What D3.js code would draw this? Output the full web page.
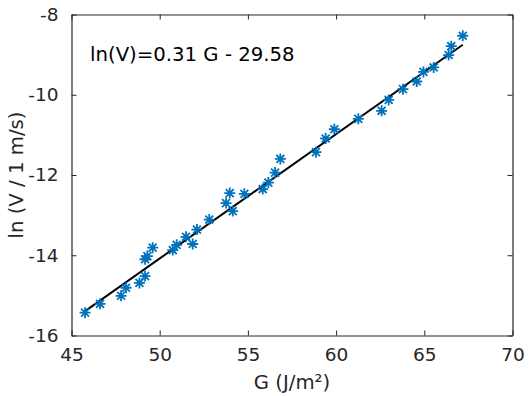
<!DOCTYPE html>
<html><head><meta charset="utf-8">
<script src="https://cdn.jsdelivr.net/npm/d3@7"></script>
<style>body{margin:0;background:#fff}svg{display:block}</style>
</head><body><svg id="c" width="530" height="396"></svg>
<script>
const gValues = [45.77,46.62,47.81,48.09,48.85,49.17,49.17,49.30,49.60,50.74,50.96,51.49,51.87,52.11,52.81,53.76,53.97,54.14,54.80,55.84,56.16,56.54,56.84,58.86,59.41,59.90,61.26,62.58,62.98,63.79,64.57,64.95,65.53,66.38,66.53,67.18];
const lnV = [-15.43,-15.21,-15.01,-14.81,-14.69,-14.52,-14.10,-14.02,-13.81,-13.87,-13.74,-13.54,-13.72,-13.36,-13.11,-12.70,-12.45,-12.90,-12.47,-12.35,-12.19,-11.94,-11.60,-11.43,-11.09,-10.86,-10.60,-10.40,-10.13,-9.86,-9.67,-9.43,-9.32,-9.01,-8.79,-8.53];
const fitSlope = 0.31, fitIntercept = -29.58;
const xTicks = [45,50,55,60,65,70];
const yTicks = [-16,-14,-12,-10,-8];
const annotation = "ln(V)=0.31 G - 29.58";
const xLabel = "G (J/m²)";
const yLabel = "ln (V / 1 m/s)";

const L=71.5,R=512.5,T=14.5,B=335.5;
const svg=d3.select("#c");
const font="DejaVu Sans, sans-serif";
const axc="#262626";
const x=d3.scaleLinear().domain([45,70]).range([L,R]);
const y=d3.scaleLinear().domain([-16,-8]).range([B,T]);

// fit line
const gMin=d3.min(gValues), gMax=d3.max(gValues);
svg.append("line").attr("x1",x(gMin)).attr("y1",y(fitSlope*gMin+fitIntercept))
  .attr("x2",x(gMax)).attr("y2",y(fitSlope*gMax+fitIntercept))
  .attr("stroke","#000").attr("stroke-width",2);

// markers
const r=5.5;
const star=`M0,${-r}V${r}M${-r},0H${r}M${-r*0.72},${-r*0.72}L${r*0.72},${r*0.72}M${-r*0.72},${r*0.72}L${r*0.72},${-r*0.72}`;
svg.append("g").selectAll("path").data(gValues).join("path")
  .attr("transform",(d,i)=>`translate(${x(d)},${y(lnV[i])})`)
  .attr("d",star).attr("stroke","#0072BD").attr("stroke-width",1.8).attr("fill","none");

// axes
const tl=5;
const xb=svg.append("g").attr("transform",`translate(0,${B})`)
  .call(d3.axisBottom(x).tickValues(xTicks).tickSizeInner(-tl).tickSizeOuter(0).tickPadding(12));
const xt=svg.append("g").attr("transform",`translate(0,${T})`)
  .call(d3.axisTop(x).tickValues(xTicks).tickSizeInner(-tl).tickSizeOuter(0).tickFormat(""));
const yl=svg.append("g").attr("transform",`translate(${L},0)`)
  .call(d3.axisLeft(y).tickValues(yTicks).tickSizeInner(-tl).tickSizeOuter(0).tickPadding(13).tickFormat(d3.format("d")));
const yr=svg.append("g").attr("transform",`translate(${R},0)`)
  .call(d3.axisRight(y).tickValues(yTicks).tickSizeInner(-tl).tickSizeOuter(0).tickFormat(""));
[xb,xt,yl,yr].forEach(a=>{
  a.selectAll(".domain").attr("stroke",axc).attr("stroke-width",1.2);
  a.selectAll(".tick line").attr("stroke",axc).attr("stroke-width",1);
  a.selectAll("text").attr("fill",axc).style("font-family",font).style("font-size","18.5px");
});
yl.selectAll("text").text(d=>d<0?"-"+Math.abs(d):d);

svg.append("text").attr("x",90).attr("y",61).text(annotation)
  .attr("fill","#000").style("font-family",font).style("font-size","19.7px");
svg.append("text").attr("x",(L+R)/2).attr("y",389).attr("text-anchor","middle").text(xLabel)
  .attr("fill",axc).style("font-family",font).style("font-size","19.7px");
svg.append("text").attr("transform",`translate(23,${(T+B)/2}) rotate(-90)`).attr("text-anchor","middle").text(yLabel)
  .attr("fill",axc).style("font-family",font).style("font-size","19.7px");
</script></body></html>
